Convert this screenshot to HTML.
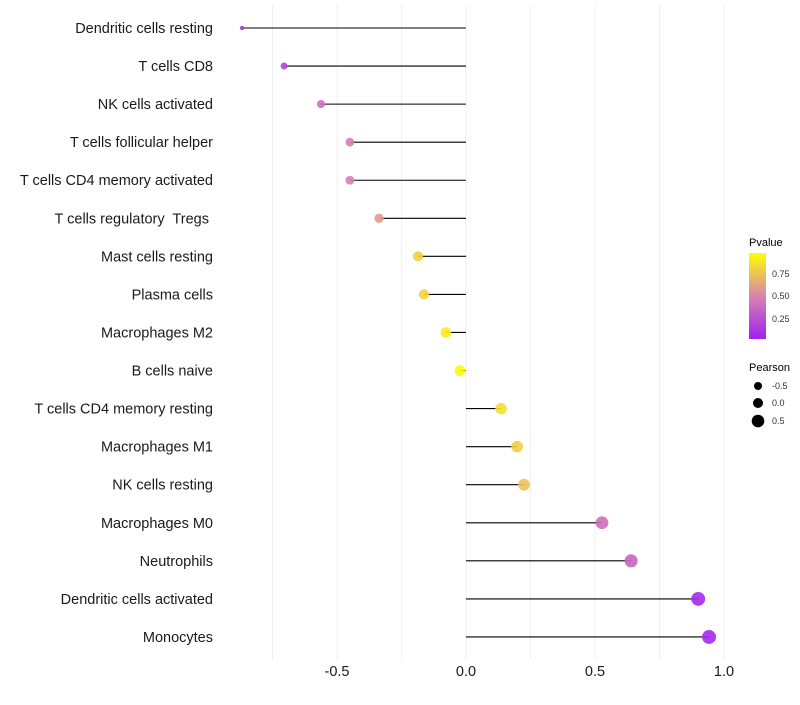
<!DOCTYPE html>
<html><head><meta charset="utf-8"><style>
body{margin:0;background:#fff;font-family:"Liberation Sans",sans-serif;}
svg text{font-family:"Liberation Sans",sans-serif;white-space:pre;}
</style></head><body>
<svg id="chart" width="800" height="700" xmlns="http://www.w3.org/2000/svg">
<g id="grid"></g>
<g id="marks"></g>
<g id="ylabels"></g>
<g id="xlabels"></g>
<g>
<text x="749" y="246" font-size="11" fill="#000">Pvalue</text>
<defs><linearGradient id="pg" x1="0" y1="1" x2="0" y2="0">
<stop offset="0" stop-color="#a020f0"/><stop offset="0.5" stop-color="#d884b0"/><stop offset="1" stop-color="#ffff00"/></linearGradient></defs>
<rect x="749" y="253" width="17" height="86" fill="url(#pg)"/>
<text x="772" y="277" font-size="9" fill="#333">0.75</text>
<text x="772" y="299" font-size="9" fill="#333">0.50</text>
<text x="772" y="322" font-size="9" fill="#333">0.25</text>
</g>
<g>
<text x="749" y="371" font-size="11" fill="#000">Pearson</text>
<circle cx="758" cy="386" r="4" fill="#000"/><text x="772" y="389" font-size="9" fill="#333">-0.5</text>
<circle cx="758" cy="403" r="5" fill="#000"/><text x="772" y="406" font-size="9" fill="#333">0.0</text>
<circle cx="758" cy="421" r="6.3" fill="#000"/><text x="772" y="424" font-size="9" fill="#333">0.5</text>
</g>
</svg>
<script>
const categories=["Dendritic cells resting","T cells CD8","NK cells activated","T cells follicular helper","T cells CD4 memory activated","T cells regulatory  Tregs ","Mast cells resting","Plasma cells","Macrophages M2","B cells naive","T cells CD4 memory resting","Macrophages M1","NK cells resting","Macrophages M0","Neutrophils","Dendritic cells activated","Monocytes"];
const pearson=[-0.868,-0.705,-0.562,-0.45,-0.45,-0.337,-0.186,-0.163,-0.078,-0.023,0.136,0.198,0.225,0.527,0.64,0.9,0.942];
const pvalue=[0.08,0.2,0.4,0.48,0.48,0.6,0.82,0.82,0.92,0.97,0.87,0.8,0.75,0.4,0.35,0.05,0.05];
const xTicks=[-0.5,0,0.5,1];
const xTickLabels=["-0.5","0.0","0.5","1.0"];
const xGrid=[-0.75,-0.5,-0.25,0,0.25,0.5,0.75,1];
const NS="http://www.w3.org/2000/svg";
const x=v=>466+v*258;
const y=i=>28+i*38.06;
const rad=v=>2+5*Math.sqrt(Math.max(0,(v+0.87)/1.81));
function col(p){const s=[[160,32,240],[216,132,176],[255,255,0]];let t=Math.max(0,Math.min(1,p));let a,b,f;if(t<0.5){a=s[0];b=s[1];f=t/0.5}else{a=s[1];b=s[2];f=(t-0.5)/0.5}return`rgb(${a.map((c,k)=>Math.round(c+(b[k]-c)*f)).join(",")})`;}
function mk(t,at,parent){const e=document.createElementNS(NS,t);for(const k in at)e.setAttribute(k,at[k]);parent.appendChild(e);return e;}
const grid=document.getElementById('grid'),marks=document.getElementById('marks'),yl=document.getElementById('ylabels'),xl=document.getElementById('xlabels');
xGrid.forEach(g=>{const l=mk('line',{x1:x(g),x2:x(g),y1:5,y2:660,stroke:'#f0f0f0','stroke-width':1},grid);

});
categories.forEach((c,i)=>{const l=mk('line',{x1:x(0),x2:x(pearson[i]),y1:y(i),y2:y(i),stroke:'#000','stroke-width':1.1},marks);


const d=mk('circle',{cx:x(pearson[i]),cy:y(i),r:rad(pearson[i]),fill:col(pvalue[i]),'fill-opacity':0.9},marks);


const t=mk('text',{x:213,y:y(i)+5,'text-anchor':'end','font-size':14.5,fill:'#1a1a1a'},yl);t.textContent=c;

});
xTicks.forEach((v,i)=>{const t=mk('text',{x:x(v),y:676,'text-anchor':'middle','font-size':14.5,fill:'#1a1a1a'},xl);t.textContent=xTickLabels[i];

});
</script>
</body></html>
